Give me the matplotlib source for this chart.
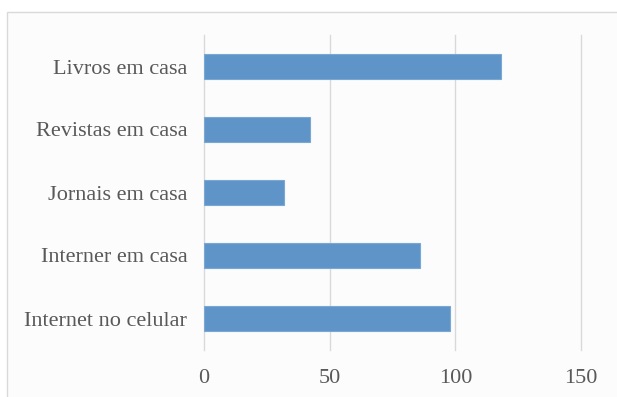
import matplotlib
matplotlib.use("Agg")
import matplotlib.pyplot as plt
from matplotlib.patches import Rectangle

categories = ["Livros em casa", "Revistas em casa", "Jornais em casa",
              "Interner em casa", "Internet no celular"]
values = [118, 42, 32, 86, 98]
xticks = [0, 50, 100, 150]

W, H = 617, 397
fig = plt.figure(figsize=(W / 100, H / 100), dpi=100)
fig.patch.set_facecolor("white")

# chart frame (light gray box, running off the right/bottom edges)
fig.patches.append(Rectangle((7 / W, -0.05), 1.0, 1 - 12 / H + 0.05,
                             transform=fig.transFigure, facecolor="#fcfcfc",
                             edgecolor="#d9d9d9", linewidth=1.0, zorder=-10))

ax = fig.add_axes([204 / W, 1 - 350 / H, (581 - 204) / W, (350 - 35) / H])
ax.set_facecolor("none")

pos = list(range(len(categories)))
ax.barh(pos, values, height=0.4, color="#5f94c8", edgecolor="#7aa7d4",
        linewidth=0.8, zorder=2)

ax.set_xlim(0, 150)
ax.set_ylim(len(categories) - 0.5, -0.5)
ax.set_xticks(xticks)
ax.set_yticks(pos)
ax.set_yticklabels(categories)
ax.grid(axis="x", color="#d9d9d9", linewidth=1.0, zorder=1)
for gl in ax.get_xgridlines():
    gl.set_clip_on(False)
ax.set_axisbelow(True)
for s in ax.spines.values():
    s.set_visible(False)

ax.tick_params(axis="both", length=0, labelcolor="#595959", labelsize=16)
ax.tick_params(axis="x", pad=14)
ax.tick_params(axis="y", pad=12)
for lab in ax.get_xticklabels() + ax.get_yticklabels():
    lab.set_family("Liberation Serif")

fig.savefig("out.png", dpi=100)
